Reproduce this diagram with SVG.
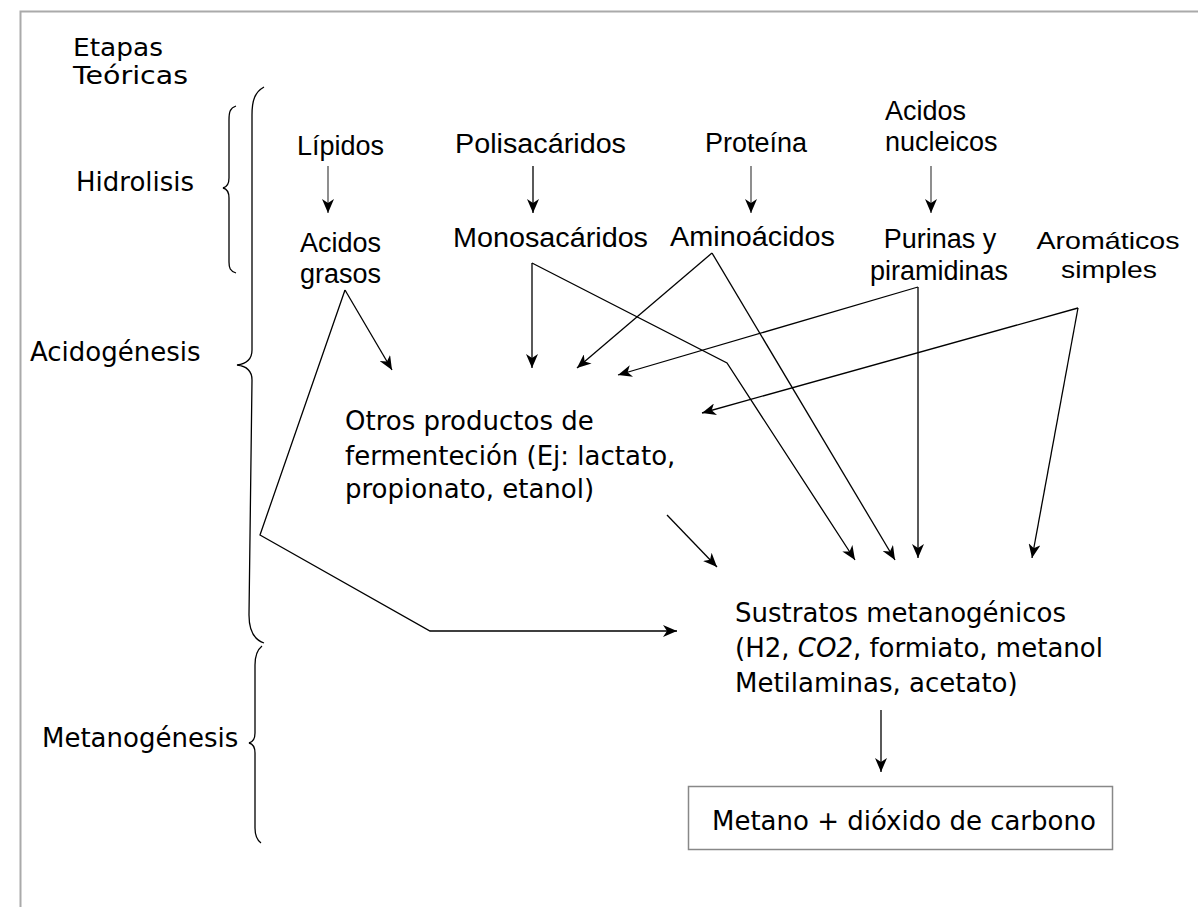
<svg xmlns="http://www.w3.org/2000/svg" width="1198" height="907" viewBox="0 0 1198 907">
<defs>
<marker id="ah" viewBox="0 0 14 12" refX="14" refY="6" markerWidth="14" markerHeight="12" markerUnits="userSpaceOnUse" orient="auto">
<path d="M0,0 L14,6 L0,12 L4,6 z" fill="#000"/>
</marker>
<style>
.c{font-family:"Comic Sans MS","DejaVu Sans",sans-serif;font-size:26px;fill:#000}
.a{font-family:"Liberation Sans",Arial,sans-serif;font-size:27px;fill:#000}
.s{font-size:24px}
.ln{fill:none;stroke:#000;stroke-width:1.3;marker-end:url(#ah)}
.lg{fill:none;stroke:#444;stroke-width:1.2;marker-end:url(#ah)}
.br{fill:none;stroke:#000;stroke-width:1.3}
</style>
</defs>
<rect width="1198" height="907" fill="#fff"/>
<rect x="20.5" y="11.5" width="1200" height="920" fill="none" stroke="#aaa" stroke-width="2"/>

<g id="stages">
<text class="c s" x="73" y="56" textLength="90" lengthAdjust="spacingAndGlyphs">Etapas</text>
<text class="c s" x="73" y="84" textLength="115" lengthAdjust="spacingAndGlyphs">Teóricas</text>
<text class="c" x="76" y="191">Hidrolisis</text>
<text class="c" x="30" y="361">Acidogénesis</text>
<text class="c" x="42" y="747">Metanogénesis</text>
<path class="br" d="M236,106 C230,108 229,112 229,120 L229,178 C229,184 227,187 223,188 C227,189 229,192 229,198 L229,262 C229,268 230,271 236,273"/>
<path class="br" d="M264,87 C255,92 252,100 252,115 L252,350 C252,360 245,364 237,365 C245,366 252,370 252,380 L249,615 C249,632 255,640 264,643"/>
<path class="br" d="M262,646 C257,650 255,655 255,665 L255,733 C255,739 253,742 249,743 C253,744 255,747 255,753 L255,828 C255,836 257,840 261,843"/>
</g>

<g id="lipidos"><text class="a" x="297" y="155">Lípidos</text></g>
<g id="polisacaridos"><text class="a" x="455" y="153" textLength="171" lengthAdjust="spacingAndGlyphs">Polisacáridos</text></g>
<g id="proteina"><text class="a" x="705" y="152">Proteína</text></g>
<g id="acidos-nucleicos"><text class="a" x="885" y="120">Acidos</text><text class="a" x="885" y="151">nucleicos</text></g>
<g id="acidos-grasos"><text class="a" x="300" y="252">Acidos</text><text class="a" x="300" y="283">grasos</text></g>
<g id="monosacaridos"><text class="a" x="453" y="247" textLength="195" lengthAdjust="spacingAndGlyphs">Monosacáridos</text></g>
<g id="aminoacidos"><text class="a" x="670" y="246" textLength="165" lengthAdjust="spacingAndGlyphs">Aminoácidos</text></g>
<g id="purinas"><text class="a" x="940" y="248" text-anchor="middle">Purinas y</text><text class="a" x="939" y="280" text-anchor="middle">piramidinas</text></g>
<g id="aromaticos"><text class="a s" x="1108" y="249" text-anchor="middle" textLength="143" lengthAdjust="spacingAndGlyphs">Aromáticos</text><text class="a s" x="1109" y="278" text-anchor="middle" textLength="96" lengthAdjust="spacingAndGlyphs">simples</text></g>

<g id="otros-productos">
<text class="c" x="345" y="430">Otros productos de</text>
<text class="c" x="345" y="465">fermenteción (Ej: lactato,</text>
<text class="c" x="345" y="498">propionato, etanol)</text>
</g>

<g id="sustratos">
<text class="c" x="735" y="622">Sustratos metanogénicos</text>
<text class="c" x="735" y="657">(H2, <tspan font-style="italic">CO2</tspan>, formiato, metanol</text>
<text class="c" x="735" y="692">Metilaminas, acetato)</text>
</g>

<g id="metano">
<rect x="688.5" y="786.5" width="424" height="63" fill="none" stroke="#888" stroke-width="1.5"/>
<text class="c" x="712" y="830">Metano + dióxido de carbono</text>
</g>

<g id="connectors">
<path class="lg" d="M328,166 V213"/>
<path class="ln" d="M533,166 V213"/>
<path class="lg" d="M751,166 V213"/>
<path class="lg" d="M931,166 V213"/>
<path class="ln" d="M345,290 L392,370"/>
<path class="ln" d="M345,290 L260,535 L430,631 L677,631"/>
<path class="ln" d="M532,263 V368"/>
<path class="ln" d="M532,263 L727,363 L855,560"/>
<path class="ln" d="M712,253 L577,368"/>
<path class="ln" d="M712,253 L895,560"/>
<path class="ln" d="M918,287 L618,375"/>
<path class="ln" d="M918,287 V558"/>
<path class="ln" d="M1078,308 L702,413"/>
<path class="ln" d="M1078,308 L1032,558"/>
<path class="ln" d="M667,515 L717,567"/>
<path class="ln" d="M881,710 V772"/>
</g>
</svg>
